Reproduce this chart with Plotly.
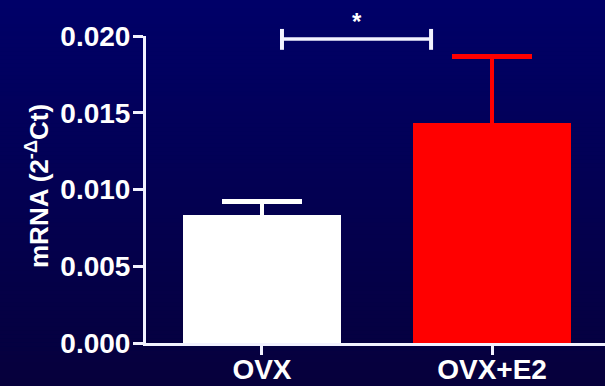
import plotly.graph_objects as go

# Relative expression (2^-ΔCt), mean ± SEM
groups = ["OVX", "OVX+E2"]
means = [0.00834, 0.01431]
sem = [0.00088, 0.00434]
bar_colors = ["#FFFFFF", "#FF0000"]
y_ticks = [0.000, 0.005, 0.010, 0.015, 0.020]
y_tick_text = ["0.000", "0.005", "0.010", "0.015", "0.020"]
sig_span = [0.087, 0.735]   # comparison bracket, in category units
sig_label = "*"

W, H = 605, 386
ML, MR, MT, MB = 146, 0, 36, 43
PH = H - MT - MB
x_range = [-0.504, 1.491]
line_col = "#F2F2FF"
font_fam = "Liberation Sans, Arial, sans-serif"

fig = go.Figure()
# one trace per group so each error bar takes its bar's colour;
# the lower whisker ends inside the bar so only the upper half shows
for i in range(len(groups)):
    fig.add_trace(go.Bar(
        x=[i], y=[means[i]], width=0.69,
        marker=dict(color=bar_colors[i], line=dict(width=0)),
        error_y=dict(type="data", array=[sem[i]], arrayminus=[0.0004], symmetric=False,
                     color=bar_colors[i], thickness=4.5, width=40),
        showlegend=False,
    ))

# vertical background gradient
top = (0, 0, 104)
bot = (6, 0, 60)
n = 97
shapes = []
for k in range(n):
    t = k / (n - 1)
    c = tuple(round(top[j] + (bot[j] - top[j]) * t) for j in range(3))
    py0 = H * k / n
    py1 = H * (k + 1) / n + 0.6
    shapes.append(dict(
        type="rect", xref="paper", yref="paper", layer="below",
        x0=-ML / (W - ML - MR) - 0.01, x1=1.01,
        y0=(H - MB - py1) / PH, y1=(H - MB - py0) / PH,
        fillcolor="rgb(%d,%d,%d)" % c, line=dict(width=0),
    ))

# significance bracket
yb = 0.990
cap_lo, cap_hi = 0.955, 1.023
shapes.append(dict(type="line", xref="x", yref="paper", x0=sig_span[0], x1=sig_span[1],
                   y0=yb, y1=yb, line=dict(color=line_col, width=3.5)))
for xs in sig_span:
    shapes.append(dict(type="line", xref="x", yref="paper", x0=xs, x1=xs,
                       y0=cap_lo, y1=cap_hi, line=dict(color=line_col, width=4)))

annotations = [
    dict(text=sig_label, xref="x", yref="paper", x=sum(sig_span) / 2, y=1.048,
         showarrow=False, xanchor="center", yanchor="middle",
         font=dict(family=font_fam, size=24, color="#FFFFFF", weight="bold")),
    dict(text="mRNA (2<sup>-Δ</sup>Ct)", xref="paper", yref="paper",
         x=(37 - ML) / (W - ML - MR), y=(H - MB - 186) / PH, textangle=-90,
         showarrow=False, xanchor="center", yanchor="middle",
         font=dict(family=font_fam, size=26, color="#FFFFFF", weight="bold")),
]

tick_font = dict(family=font_fam, size=28, color="#FFFFFF", weight="bold")
fig.update_layout(
    width=W, height=H,
    margin=dict(l=ML, r=MR, t=MT, b=MB, pad=0),
    paper_bgcolor="rgb(3,0,82)", plot_bgcolor="rgba(0,0,0,0)",
    shapes=shapes, annotations=annotations, bargap=0,
    xaxis=dict(range=x_range, tickvals=[0, 1], ticktext=groups,
               showline=True, linecolor=line_col, linewidth=3,
               ticks="outside", ticklen=9, tickwidth=3, tickcolor=line_col,
               showgrid=False, zeroline=False, fixedrange=True, automargin=False,
               ticklabelstandoff=-10, tickfont=tick_font),
    yaxis=dict(range=[0, 0.02], tickvals=y_ticks, ticktext=y_tick_text,
               showline=True, linecolor=line_col, linewidth=3,
               ticks="outside", ticklen=10, tickwidth=3, tickcolor=line_col,
               showgrid=False, zeroline=False, fixedrange=True, automargin=False,
               ticklabelstandoff=-3, tickfont=tick_font),
)

fig.write_html("out.html", config=dict(displayModeBar=False))
